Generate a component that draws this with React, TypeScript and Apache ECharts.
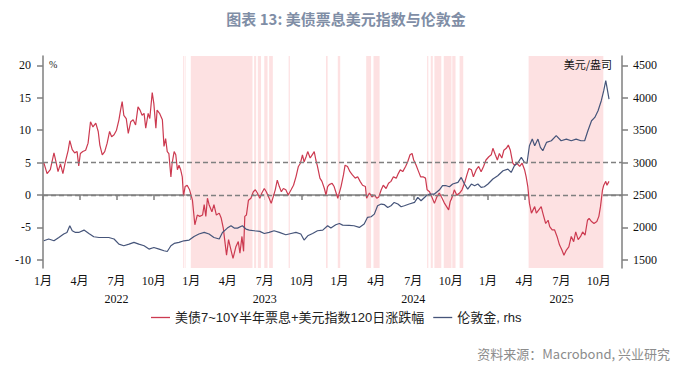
import React, { useEffect, useRef } from "react";
import * as echarts from "echarts";

// 美债7~10Y半年票息+美元指数120日涨跌幅 (%, left axis)
const spreadData: [string, number][] = [
  ["2022-01-03", 5.0], ["2022-01-11", 3.3], ["2022-01-19", 3.9], ["2022-01-28", 6.5], ["2022-02-02", 5.1],
  ["2022-02-07", 3.6], ["2022-02-13", 4.8], ["2022-02-19", 3.3], ["2022-02-25", 5.1], ["2022-03-04", 6.9],
  ["2022-03-08", 8.4], ["2022-03-14", 7.0], ["2022-03-20", 6.5], ["2022-03-26", 6.7], ["2022-03-30", 4.5],
  ["2022-04-03", 6.4], ["2022-04-09", 6.7], ["2022-04-16", 6.9], ["2022-04-22", 8.0], ["2022-04-28", 11.3],
  ["2022-05-04", 10.5], ["2022-05-11", 11.1], ["2022-05-17", 9.8], ["2022-05-21", 7.7], ["2022-05-27", 6.2],
  ["2022-06-02", 6.7], ["2022-06-08", 8.0], ["2022-06-14", 9.8], ["2022-06-19", 9.0], ["2022-06-25", 9.3],
  ["2022-07-01", 10.0], ["2022-07-07", 11.6], ["2022-07-11", 13.1], ["2022-07-15", 14.4], ["2022-07-19", 12.3],
  ["2022-07-25", 11.8], ["2022-07-30", 9.5], ["2022-08-05", 11.3], ["2022-08-11", 11.6], ["2022-08-17", 10.8],
  ["2022-08-23", 13.6], ["2022-08-28", 13.1], ["2022-09-02", 12.3], ["2022-09-07", 12.6], ["2022-09-11", 10.3],
  ["2022-09-17", 12.6], ["2022-09-21", 11.8], ["2022-09-27", 15.8], ["2022-10-01", 14.1], ["2022-10-06", 10.3],
  ["2022-10-09", 13.1], ["2022-10-15", 12.6], ["2022-10-22", 11.6], ["2022-10-26", 7.5], ["2022-10-30", 8.7],
  ["2022-11-03", 6.7], ["2022-11-07", 6.4], ["2022-11-12", 2.8], ["2022-11-15", 4.9], ["2022-11-20", 6.7],
  ["2022-11-24", 6.2], ["2022-11-28", 3.9], ["2022-12-02", 4.6], ["2022-12-06", 3.9], ["2022-12-10", 2.8],
  ["2022-12-13", -0.2], ["2022-12-17", 1.3], ["2022-12-22", 1.5], ["2022-12-28", 0.8],
  ["2023-01-04", -0.8], ["2023-01-10", -4.6], ["2023-01-16", -3.1], ["2023-01-22", -3.3], ["2023-01-29", -3.1],
  ["2023-02-02", -1.5], ["2023-02-06", -3.3], ["2023-02-10", -0.5], ["2023-02-14", -1.5], ["2023-02-21", -2.6],
  ["2023-02-26", -1.5], ["2023-03-04", -3.1], ["2023-03-11", -2.8], ["2023-03-16", -3.6], ["2023-03-21", -5.1],
  ["2023-03-25", -7.2], ["2023-03-29", -9.3], ["2023-04-03", -6.9], ["2023-04-09", -8.5], ["2023-04-14", -9.8],
  ["2023-04-21", -8.0], ["2023-04-27", -7.2], ["2023-05-01", -9.0], ["2023-05-06", -6.4], ["2023-05-10", -8.7],
  ["2023-05-13", -3.3], ["2023-05-17", -3.1], ["2023-05-22", -0.8], ["2023-05-28", -0.5], ["2023-06-03", 0.5],
  ["2023-06-08", 0.8], ["2023-06-13", 0.3], ["2023-06-19", -0.5], ["2023-06-24", 0.3], ["2023-06-30", 1.0],
  ["2023-07-05", 0.5], ["2023-07-12", -0.5], ["2023-07-17", -1.3], ["2023-07-22", -0.3], ["2023-07-27", 0.8],
  ["2023-08-01", 2.3], ["2023-08-06", 1.3], ["2023-08-11", 0.5], ["2023-08-16", 1.0], ["2023-08-22", 0.8],
  ["2023-08-28", 0.0], ["2023-09-04", 0.8], ["2023-09-10", 1.5], ["2023-09-16", 2.8], ["2023-09-22", 4.4],
  ["2023-09-27", 4.9], ["2023-10-02", 6.2], ["2023-10-06", 5.1], ["2023-10-11", 5.9], ["2023-10-15", 6.7],
  ["2023-10-21", 5.7], ["2023-10-26", 6.2], ["2023-10-31", 6.7], ["2023-11-04", 5.4], ["2023-11-08", 4.4],
  ["2023-11-14", 2.6], ["2023-11-19", 2.1], ["2023-11-25", 1.0], ["2023-11-29", 0.0], ["2023-12-03", 1.3],
  ["2023-12-07", 1.6], ["2023-12-14", 1.8], ["2023-12-19", 1.3], ["2023-12-23", 0.5], ["2023-12-28", -0.5],
  ["2024-01-05", 1.3], ["2024-01-11", 3.1], ["2024-01-15", 4.6], ["2024-01-21", 4.4], ["2024-01-27", 3.6],
  ["2024-02-02", 3.1], ["2024-02-09", 2.6], ["2024-02-15", 2.8], ["2024-02-21", 2.1], ["2024-02-27", 1.5],
  ["2024-03-05", 1.3], ["2024-03-08", -0.5], ["2024-03-15", 0.3], ["2024-03-21", -0.3], ["2024-03-27", 0.0],
  ["2024-04-02", -0.5], ["2024-04-07", -0.3], ["2024-04-13", 0.8], ["2024-04-18", 1.5], ["2024-04-25", 1.0],
  ["2024-05-01", 1.8], ["2024-05-07", 2.1], ["2024-05-13", 2.8], ["2024-05-20", 2.6], ["2024-05-25", 3.3],
  ["2024-05-30", 3.9], ["2024-06-05", 3.6], ["2024-06-12", 4.4], ["2024-06-17", 5.1], ["2024-06-23", 6.2],
  ["2024-06-28", 6.4], ["2024-07-02", 5.4], ["2024-07-08", 4.6], ["2024-07-14", 3.6], ["2024-07-19", 2.8],
  ["2024-07-25", 2.8], ["2024-07-31", 2.6], ["2024-08-04", 0.8], ["2024-08-10", 0.5], ["2024-08-17", -0.5],
  ["2024-08-22", -1.3], ["2024-08-28", -0.3], ["2024-09-03", 0.3], ["2024-09-10", -0.5], ["2024-09-16", -1.3],
  ["2024-09-21", -1.8], ["2024-09-26", -2.3], ["2024-09-30", -1.0], ["2024-10-05", -0.3], ["2024-10-10", 0.8],
  ["2024-10-16", 0.0], ["2024-10-23", 0.3], ["2024-10-29", 0.8], ["2024-11-04", 1.8], ["2024-11-10", 3.1],
  ["2024-11-15", 4.1], ["2024-11-21", 3.9], ["2024-11-26", 2.8], ["2024-12-03", 3.9], ["2024-12-09", 4.4],
  ["2024-12-15", 3.6], ["2024-12-21", 4.4], ["2024-12-27", 5.4],
  ["2025-01-03", 5.9], ["2025-01-09", 6.2], ["2025-01-13", 7.2], ["2025-01-19", 6.2], ["2025-01-24", 5.4],
  ["2025-01-29", 6.4], ["2025-02-04", 5.7], ["2025-02-09", 6.9], ["2025-02-15", 7.2], ["2025-02-20", 7.7],
  ["2025-02-25", 6.9], ["2025-03-03", 4.9], ["2025-03-07", 4.6], ["2025-03-13", 4.9], ["2025-03-20", 4.4],
  ["2025-03-26", 4.9], ["2025-04-01", 3.9], ["2025-04-05", 2.8], ["2025-04-09", 1.3], ["2025-04-13", -1.3],
  ["2025-04-18", -2.8], ["2025-04-22", -2.3], ["2025-04-26", -1.8], ["2025-04-30", -2.8], ["2025-05-06", -2.3],
  ["2025-05-12", -1.8], ["2025-05-16", -2.8], ["2025-05-23", -4.4], ["2025-05-29", -3.9], ["2025-06-02", -4.9],
  ["2025-06-08", -5.4], ["2025-06-14", -5.4], ["2025-06-20", -6.4], ["2025-06-26", -7.7], ["2025-07-02", -8.5],
  ["2025-07-07", -9.3], ["2025-07-13", -8.5], ["2025-07-19", -8.0], ["2025-07-25", -6.4], ["2025-07-31", -7.2],
  ["2025-08-05", -5.7], ["2025-08-11", -6.9], ["2025-08-17", -6.4], ["2025-08-22", -5.7], ["2025-08-28", -6.2],
  ["2025-09-03", -3.9], ["2025-09-07", -3.6], ["2025-09-13", -4.1], ["2025-09-19", -4.4], ["2025-09-26", -4.1],
  ["2025-10-01", -3.3], ["2025-10-05", -1.8], ["2025-10-10", 0.8], ["2025-10-13", 1.5], ["2025-10-18", 2.1],
  ["2025-10-21", 1.5], ["2025-10-26", 2.1],
];

// 伦敦金 (美元/盎司, right axis)
const goldData: [string, number][] = [
  ["2022-01-03", 1793], ["2022-01-15", 1820], ["2022-01-28", 1793], ["2022-02-09", 1844], ["2022-02-21", 1897],
  ["2022-03-01", 1922], ["2022-03-08", 2025], ["2022-03-14", 1948], ["2022-03-22", 1922], ["2022-03-30", 1922],
  ["2022-04-12", 1958], ["2022-04-24", 1906], ["2022-05-06", 1855], ["2022-05-19", 1844], ["2022-05-31", 1844],
  ["2022-06-12", 1844], ["2022-06-25", 1820], ["2022-07-07", 1742], ["2022-07-19", 1716], ["2022-08-01", 1742],
  ["2022-08-13", 1768], ["2022-08-25", 1742], ["2022-09-07", 1716], ["2022-09-19", 1665], ["2022-10-01", 1690],
  ["2022-10-14", 1665], ["2022-10-26", 1639], ["2022-11-03", 1628], ["2022-11-12", 1716], ["2022-11-20", 1752],
  ["2022-12-02", 1768], ["2022-12-14", 1793], ["2022-12-27", 1804],
  ["2023-01-08", 1860], ["2023-01-20", 1897], ["2023-02-02", 1922], ["2023-02-14", 1897], ["2023-02-26", 1844],
  ["2023-03-11", 1820], ["2023-03-19", 1922], ["2023-03-31", 1989], ["2023-04-09", 2025], ["2023-04-17", 1989],
  ["2023-04-25", 1989], ["2023-05-07", 2025], ["2023-05-16", 1974], ["2023-05-24", 1958], ["2023-06-05", 1948],
  ["2023-06-19", 1938], ["2023-06-30", 1906], ["2023-07-12", 1922], ["2023-07-24", 1948], ["2023-08-06", 1922],
  ["2023-08-22", 1886], ["2023-09-04", 1906], ["2023-09-16", 1922], ["2023-09-28", 1897], ["2023-10-06", 1804],
  ["2023-10-15", 1870], ["2023-10-27", 1906], ["2023-11-08", 1948], ["2023-11-21", 1958], ["2023-12-03", 2025],
  ["2023-12-11", 1989], ["2023-12-23", 2040],
  ["2024-01-01", 2060], ["2024-01-09", 2035], ["2024-01-25", 2030], ["2024-02-06", 2025], ["2024-02-19", 1999],
  ["2024-03-02", 2051], ["2024-03-10", 2153], ["2024-03-19", 2164], ["2024-03-27", 2205], ["2024-04-04", 2334],
  ["2024-04-13", 2360], ["2024-04-21", 2350], ["2024-04-29", 2308], ["2024-05-07", 2334], ["2024-05-15", 2385],
  ["2024-05-24", 2360], ["2024-06-01", 2318], ["2024-06-09", 2334], ["2024-06-21", 2360], ["2024-07-04", 2385],
  ["2024-07-12", 2462], ["2024-07-20", 2411], ["2024-08-02", 2488], ["2024-08-10", 2514], ["2024-08-22", 2514],
  ["2024-09-03", 2576], ["2024-09-11", 2643], ["2024-09-20", 2643], ["2024-09-28", 2627], ["2024-10-06", 2669],
  ["2024-10-19", 2694], ["2024-10-27", 2771], ["2024-11-04", 2669], ["2024-11-12", 2591], ["2024-11-21", 2669],
  ["2024-11-29", 2643], ["2024-12-07", 2669], ["2024-12-15", 2617], ["2024-12-23", 2627],
  ["2025-01-01", 2669], ["2025-01-13", 2746], ["2025-01-25", 2797], ["2025-02-07", 2874], ["2025-02-19", 2900],
  ["2025-02-27", 2848], ["2025-03-07", 2951], ["2025-03-16", 3002], ["2025-03-24", 3080], ["2025-04-01", 3002],
  ["2025-04-07", 2990], ["2025-04-13", 3260], ["2025-04-20", 3363], ["2025-04-26", 3260], ["2025-05-04", 3363],
  ["2025-05-10", 3234], ["2025-05-16", 3183], ["2025-05-25", 3311], ["2025-06-06", 3337], ["2025-06-18", 3415],
  ["2025-06-30", 3337], ["2025-07-13", 3363], ["2025-07-25", 3337], ["2025-08-06", 3363], ["2025-08-18", 3337],
  ["2025-08-27", 3337], ["2025-09-04", 3492], ["2025-09-13", 3646], ["2025-09-21", 3697], ["2025-09-29", 3800],
  ["2025-10-07", 3955], ["2025-10-13", 4109], ["2025-10-18", 4264], ["2025-10-21", 4160], ["2025-10-26", 3981],
];

// shaded periods
const shadedPeriods: [string, string][] = [
  ["2022-12-12", "2022-12-14"], ["2022-12-16", "2022-12-18"], ["2022-12-31", "2023-06-01"],
  ["2023-06-05", "2023-06-10"], ["2023-06-14", "2023-06-22"], ["2023-06-30", "2023-07-08"],
  ["2023-07-12", "2023-07-21"], ["2023-08-29", "2023-09-01"], ["2023-11-29", "2023-12-03"],
  ["2023-12-28", "2024-01-03"], ["2024-03-07", "2024-03-19"], ["2024-03-25", "2024-04-09"],
  ["2024-08-04", "2024-08-07"], ["2024-08-13", "2024-08-18"], ["2024-08-22", "2024-09-08"],
  ["2024-09-14", "2024-10-03"], ["2024-10-05", "2024-10-13"], ["2024-10-23", "2024-11-01"],
  ["2025-04-11", "2025-10-12"],
];

const quarterTicks: string[] = [
  "2022-01-01", "2022-04-01", "2022-07-01", "2022-10-01",
  "2023-01-01", "2023-04-01", "2023-07-01", "2023-10-01",
  "2024-01-01", "2024-04-01", "2024-07-01", "2024-10-01",
  "2025-01-01", "2025-04-01", "2025-07-01", "2025-10-01",
];
const leftTicks: number[] = [-10, -5, 0, 5, 10, 15, 20];
const rightTicks: number[] = [1500, 2000, 2500, 3000, 3500, 4000, 4500];
const refLines: number[] = [0, 5];
const xStart = "2022-01-01";
const xEnd = "2025-11-27";

const ts = (s: string) => {
  const [y, m, d] = s.split("-").map(Number);
  return new Date(y, m - 1, d).getTime();
};

const SERIF = "'Liberation Serif', 'Times New Roman', 'Noto Sans CJK SC', serif";
const SANS = "'Liberation Sans', Arial, 'Noto Sans CJK SC', sans-serif";
const AXIS = "#7f7f7f";
const RED = "#cc3a50";
const BLUE = "#46557a";

export default function App() {
  const ref = useRef<HTMLDivElement>(null);
  useEffect(() => {
    const chart = echarts.init(ref.current!, null, { renderer: "svg" });
    const option: any = {
      animation: false,
      backgroundColor: "#ffffff",
      title: {
        text: "图表 13: 美债票息美元指数与伦敦金",
        left: "center",
        top: 6,
        textStyle: { color: "#7f8ea6", fontSize: 15, fontWeight: "bold", fontFamily: "'Noto Sans CJK SC', sans-serif" },
      },
      grid: { left: 43, right: 70, top: 56, bottom: 106 },
      legend: {
        left: 146,
        top: 306,
        icon: "rect",
        itemWidth: 19,
        itemHeight: 1.3,
        itemGap: 9,
        textStyle: { fontSize: 13, color: "#222", fontFamily: SANS },
        data: ["美债7~10Y半年票息+美元指数120日涨跌幅", "伦敦金, rhs"],
      },
      xAxis: {
        type: "value",
        min: ts(xStart),
        max: ts(xEnd),
        splitLine: { show: false },
        axisLine: { lineStyle: { color: AXIS, width: 1.5 } },
        axisTick: { show: true, length: 5, lineStyle: { color: AXIS, width: 1.5 }, customValues: quarterTicks.map(ts) },
        axisLabel: {
          customValues: quarterTicks.map(ts),
          margin: 4,
          fontSize: 12,
          lineHeight: 18,
          color: "#111",
          fontFamily: SERIF,
          formatter: (v: number) => {
            const d = new Date(v);
            const m = d.getMonth() + 1;
            return m === 7 ? `${m}月\n${d.getFullYear()}` : `${m}月`;
          },
        },
      },
      yAxis: [
        {
          type: "value",
          min: -11.27,
          max: 21.45,
          position: "left",
          splitLine: { show: false },
          axisLine: { show: true, lineStyle: { color: AXIS, width: 1.5 } },
          axisTick: { show: true, length: 6, lineStyle: { color: AXIS, width: 1.5 }, customValues: leftTicks },
          axisLabel: { customValues: leftTicks, margin: 12, fontSize: 12, color: "#111", fontFamily: SERIF, formatter: (v: number) => String(v) },
        },
        {
          type: "value",
          min: 1373,
          max: 4645,
          position: "right",
          splitLine: { show: false },
          axisLine: { show: true, lineStyle: { color: AXIS, width: 1.5 } },
          axisTick: { show: true, length: 6, lineStyle: { color: AXIS, width: 1.5 }, customValues: rightTicks },
          axisLabel: { customValues: rightTicks, margin: 11, fontSize: 12, color: "#111", fontFamily: SERIF, formatter: (v: number) => String(v) },
        },
      ],
      series: [
        {
          name: "美债7~10Y半年票息+美元指数120日涨跌幅",
          type: "line",
          yAxisIndex: 0,
          z: 3,
          showSymbol: false,
          symbol: "none",
          data: spreadData.map(([d, v]) => [ts(d), v]),
          lineStyle: { color: RED, width: 1.2 },
          itemStyle: { color: RED },
          markArea: {
            silent: true,
            itemStyle: { color: "#fde1e2" },
            data: shadedPeriods.map(([s, e]) => [{ xAxis: ts(s) }, { xAxis: ts(e) }]),
          },
          markLine: {
            silent: true,
            symbol: "none",
            label: { show: false },
            lineStyle: { color: "#808080", type: [5, 3], width: 1.3 },
            data: refLines.map((v) => ({ yAxis: v })),
          },
        },
        {
          name: "伦敦金, rhs",
          type: "line",
          yAxisIndex: 1,
          z: 4,
          showSymbol: false,
          symbol: "none",
          data: goldData.map(([d, v]) => [ts(d), v]),
          lineStyle: { color: BLUE, width: 1.2 },
          itemStyle: { color: BLUE },
        },
      ],
      graphic: [
        { type: "text", z: 100, left: 49, top: 59, style: { text: "%", fill: "#222", font: `10px ${SERIF}` } },
        { type: "text", z: 100, right: 80, top: 58, style: { text: "美元/盎司", fill: "#111", font: `11px 'Noto Sans CJK SC', sans-serif` } },
        { type: "text", z: 100, right: 22, top: 347, style: { text: "资料来源：Macrobond, 兴业研究", fill: "#8c8c8c", font: `13px 'Noto Sans CJK SC', sans-serif` } },
      ],
    };
    chart.setOption(option);
    return () => chart.dispose();
  }, []);
  return <div ref={ref} style={{ position: "fixed", left: 0, top: 0, width: 692, height: 374, background: "#fff" }} />;
}
